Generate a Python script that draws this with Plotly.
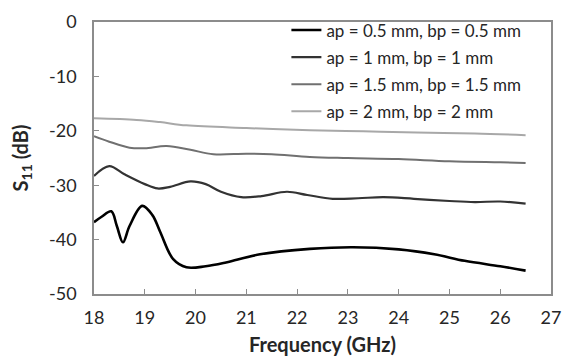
import plotly.graph_objects as go

# Data
freq_05 = [18, 18.15, 18.34, 18.45, 18.57, 18.7, 18.95, 19.15, 19.3, 19.56, 19.82, 20.2, 20.6, 21.27, 22.25, 23.1, 24.0, 24.7, 25.3, 26.0, 26.5]
s11_05 = [-36.8, -35.8, -34.8, -37.5, -40.5, -37.5, -33.8, -35.5, -38.5, -43.6, -45.1, -44.9, -44.2, -42.7, -41.7, -41.4, -41.8, -42.7, -43.9, -44.9, -45.7]

freq_1 = [18, 18.3, 18.6, 19, 19.25, 19.5, 19.9, 20.2, 20.5, 20.9, 21.3, 21.8, 22.2, 22.7, 23.2, 23.7, 24.3, 25, 25.5, 26, 26.5]
s11_1 = [-28.3, -26.5, -28.0, -29.8, -30.6, -30.3, -29.3, -29.8, -31.2, -32.2, -32.0, -31.2, -31.8, -32.5, -32.4, -32.2, -32.5, -32.9, -33.1, -33.0, -33.4]

freq_15 = [18, 18.3, 18.7, 19, 19.43, 19.9, 20.35, 21, 21.5, 22.25, 23, 24, 25, 26, 26.5]
s11_15 = [-21.0, -22.0, -23.1, -23.2, -22.8, -23.5, -24.3, -24.2, -24.3, -24.8, -25.0, -25.2, -25.6, -25.8, -25.9]

freq_2 = [18, 18.84, 19.3, 19.82, 21, 22.25, 23.3, 24.35, 25.5, 26.5]
s11_2 = [-17.7, -18.0, -18.4, -19.0, -19.5, -19.9, -20.1, -20.3, -20.5, -20.8]

names = ["ap = 0.5 mm, bp = 0.5 mm", "ap = 1 mm, bp = 1 mm",
         "ap = 1.5 mm, bp = 1.5 mm", "ap = 2 mm, bp = 2 mm"]
x_ticks = [18, 19, 20, 21, 22, 23, 24, 25, 26, 27]
y_ticks = [0, -10, -20, -30, -40, -50]

series = [(freq_05, s11_05), (freq_1, s11_1), (freq_15, s11_15), (freq_2, s11_2)]
colors = ["#000000", "#333333", "#707070", "#a8a8a8"]
widths = [2.6, 2.2, 2.0, 2.0]

FONT = "Lato"
TXT = "#262626"
fig = go.Figure()
for i, ((fx, fy), nm) in enumerate(zip(series, names)):
    fig.add_trace(go.Scatter(
        x=fx, y=fy, name=nm, mode="lines", legendgroup=f"g{i}",
        line=dict(color=colors[i], width=widths[i], shape="spline", smoothing=1.0),
    ))

axis_color = "#8c8c8c"
fig.update_layout(
    width=566, height=357,
    margin=dict(l=94, r=15, t=16, b=63),
    paper_bgcolor="white", plot_bgcolor="white",
    font=dict(family=FONT, size=17, color=TXT),
    showlegend=True,
    legend=dict(
        x=0.421, y=1.035, xanchor="left", yanchor="top",
        bgcolor="rgba(0,0,0,0)", borderwidth=0,
        font=dict(family=FONT, size=17, color=TXT),
        tracegroupgap=2, itemwidth=30,
    ),
    xaxis=dict(
        range=[18, 27], tickvals=x_ticks, ticktext=[str(v) for v in x_ticks],
        showgrid=False, zeroline=False, automargin=False,
        showline=True, linecolor=axis_color, linewidth=1.5, mirror=True,
        ticks="inside", ticklen=5, tickcolor=axis_color, tickwidth=1,
        ticklabelstandoff=7,
        tickfont=dict(family=FONT, size=18, color=TXT),
        title=dict(text="<b>Frequency (GHz)</b>", font=dict(family=FONT, size=20, color=TXT), standoff=11),
    ),
    yaxis=dict(
        range=[-50, 0], tickvals=y_ticks, ticktext=[str(v) for v in y_ticks],
        showgrid=False, zeroline=False, automargin=False,
        showline=True, linecolor=axis_color, linewidth=1.5, mirror=True,
        ticks="inside", ticklen=5, tickcolor=axis_color, tickwidth=1,
        ticklabelstandoff=12,
        tickfont=dict(family=FONT, size=18, color=TXT),
        title=dict(text="<b>S<sub>11</sub> (dB)</b>", font=dict(family=FONT, size=20, color=TXT), standoff=15),
    ),
)

fig.write_html("out.html")
